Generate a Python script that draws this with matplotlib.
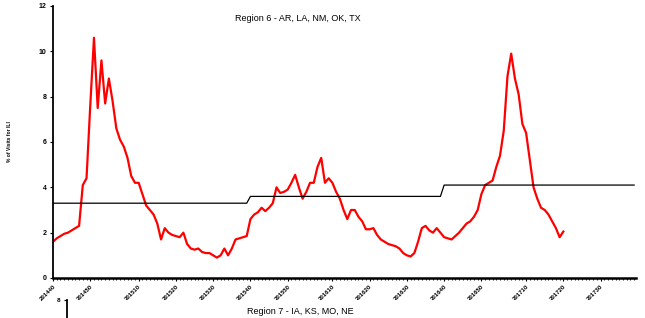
import numpy as np
import matplotlib
matplotlib.use("Agg")
import matplotlib.pyplot as plt
from matplotlib.ticker import MultipleLocator

plt.rcParams['font.family'] = ['Liberation Sans', 'DejaVu Sans']

# weekly ILI % for Region 6, starting MMWR week 201440
ili = [1.6, 1.75, 1.85, 1.95, 2.0, 2.1, 2.2, 2.3, 4.1, 4.4,
       7.6, 10.6, 7.5, 9.6, 7.7, 8.8, 7.8, 6.6, 6.1, 5.8,
       5.3, 4.5, 4.2, 4.2, 3.7, 3.2, 3.0, 2.8, 2.4, 1.7,
       2.2, 2.0, 1.9, 1.85, 1.8, 2.0, 1.5, 1.3, 1.25, 1.3,
       1.15, 1.1, 1.1, 1.0, 0.9, 1.0, 1.3, 1.0, 1.3, 1.7,
       1.75, 1.8, 1.85, 2.6, 2.8, 2.9, 3.1, 2.95, 3.1, 3.3,
       4.0, 3.75, 3.8, 3.9, 4.2, 4.55, 4.0, 3.5, 3.8, 4.2,
       4.2, 4.9, 5.3, 4.2, 4.4, 4.2, 3.8, 3.5, 3.0, 2.6,
       3.0, 3.0, 2.7, 2.5, 2.15, 2.15, 2.2, 1.9, 1.7, 1.6,
       1.5, 1.45, 1.4, 1.3, 1.1, 1.0, 0.95, 1.1, 1.6, 2.2,
       2.3, 2.1, 2.0, 2.2, 2.0, 1.8, 1.75, 1.7, 1.85, 2.0,
       2.2, 2.4, 2.5, 2.7, 3.0, 3.7, 4.1, 4.2, 4.3, 4.9,
       5.4, 6.5, 8.9, 9.9, 8.8, 8.1, 6.8, 6.4, 5.2, 4.0,
       3.5, 3.1, 3.0, 2.8, 2.5, 2.2, 1.8, 2.05]

# regional baseline per season (week index where it applies)
baseline_weeks = [0, 52, 53, 104, 105, 156]
baseline_vals = [3.3, 3.3, 3.6, 3.6, 4.1, 4.1]

tick_pos = [0, 10, 23, 33, 43, 53, 63, 75, 85, 95, 105, 115, 127, 137, 147]
tick_labels = ['201440', '201450', '201510', '201520', '201530', '201540',
               '201550', '201610', '201620', '201630', '201640', '201650',
               '201710', '201720', '201730']

fig = plt.figure(figsize=(6.45, 3.18), dpi=100)
ax = fig.add_axes([53/645, 1 - 278/318, (636 - 53)/645, (278 - 6)/318])

ax.plot(range(len(ili)), ili, color='#ff0000', lw=1.6)
ax.plot(baseline_weeks, baseline_vals, color='black', lw=0.9)

ax.set_xlim(0, 156.5)
ax.set_ylim(0, 12)
ax.set_yticks(range(0, 13, 2))
ax.set_xticks(tick_pos)
ax.set_xticklabels(tick_labels, rotation=45, ha='right', rotation_mode='anchor',
                   fontsize=4.3, fontweight='bold')
ax.xaxis.set_minor_locator(MultipleLocator(1))
ax.tick_params(axis='y', labelsize=5, length=2.5, width=0.8, pad=2)
for lb in ax.get_yticklabels():
    lb.set_fontweight('bold')
ax.tick_params(axis='x', which='major', length=2.5, width=0.8, pad=1.5)
ax.tick_params(axis='x', which='minor', length=1.5, width=0.6)
for s in ['top', 'right']:
    ax.spines[s].set_visible(False)
ax.spines['left'].set_linewidth(1.3)
ax.spines['bottom'].set_linewidth(1.8)
ax.set_ylabel('% of Visits for ILI', fontsize=3.6, fontweight='bold', labelpad=19)
ax.text(0.42, 0.955, 'Region 6 - AR, LA, NM, OK, TX', transform=ax.transAxes,
        ha='center', va='center', fontsize=6.5)

# top of the next region's chart, cut off by the figure edge
ax2 = fig.add_axes([67/645, -0.5, 0.86, 0.5 + (1 - 300/318)])
ax2.set_ylim(0, 8)
ax2.set_yticks([8])
ax2.set_xticks([])
ax2.tick_params(axis='y', labelsize=4.5, length=2.5, width=0.8, pad=2)
for lb in ax2.get_yticklabels():
    lb.set_fontweight('bold')
for s in ['top', 'right', 'bottom']:
    ax2.spines[s].set_visible(False)
ax2.spines['left'].set_linewidth(1.3)
fig.text(300/645, 1 - 312/318, 'Region 7 - IA, KS, MO, NE', ha='center',
         va='center', fontsize=6.5)

fig.savefig('out.png', dpi=100)
